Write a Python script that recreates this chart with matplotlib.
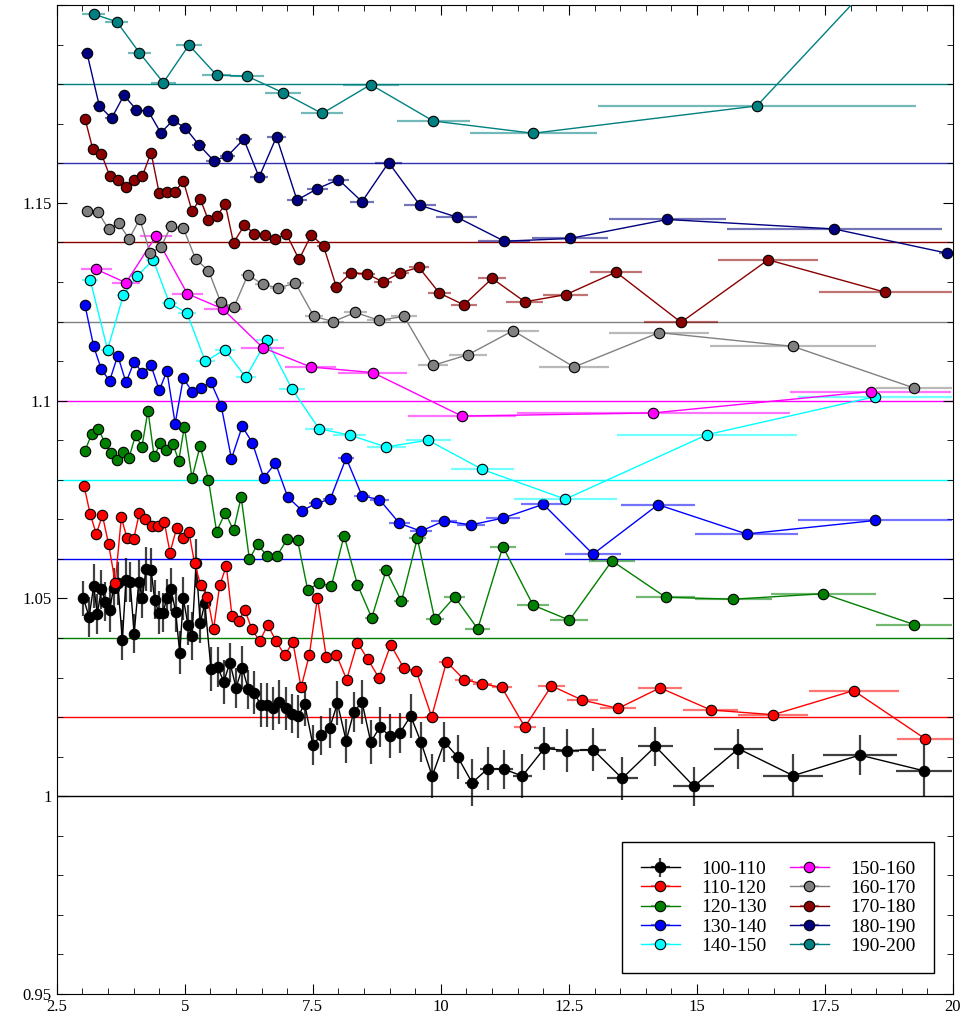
import matplotlib.pyplot as plt
from matplotlib.ticker import MultipleLocator, FuncFormatter, FormatStrFormatter

plt.rcParams['font.family'] = ['Liberation Serif', 'DejaVu Serif']

# 100-110
x_100 = [3.02, 3.13, 3.22, 3.29, 3.37, 3.45, 3.53, 3.61, 3.69, 3.78, 3.85, 3.93, 4.01, 4.10, 4.17, 4.24, 4.34, 4.41, 4.49, 4.57,
         4.65, 4.73, 4.82, 4.90, 4.97, 5.06, 5.14, 5.22, 5.30, 5.39, 5.51, 5.64, 5.76, 5.88, 6.00, 6.12, 6.24, 6.36, 6.48, 6.60,
         6.72, 6.84, 6.97, 7.09, 7.21, 7.34, 7.50, 7.66, 7.83, 7.98, 8.15, 8.30, 8.46, 8.63, 8.81, 9.00, 9.20, 9.41, 9.61, 9.83,
         10.07, 10.33, 10.61, 10.92, 11.24, 11.59, 12.02, 12.47, 12.97, 13.54, 14.19, 14.94, 15.81, 16.88, 18.18, 19.44]
y_100 = [1.0500, 1.0453, 1.0532, 1.0461, 1.0523, 1.0492, 1.0471, 1.0527, 1.0538, 1.0395, 1.0547, 1.0542, 1.0411, 1.0542, 1.0500,
         1.0574, 1.0572, 1.0497, 1.0464, 1.0464, 1.0500, 1.0523, 1.0466, 1.0363, 1.0500, 1.0433, 1.0405, 1.0589, 1.0437, 1.0488,
         1.0322, 1.0327, 1.0289, 1.0338, 1.0274, 1.0325, 1.0270, 1.0262, 1.0230, 1.0230, 1.0222, 1.0238, 1.0222, 1.0209, 1.0202,
         1.0233, 1.0130, 1.0154, 1.0173, 1.0235, 1.0140, 1.0213, 1.0238, 1.0137, 1.0175, 1.0152, 1.0160, 1.0203, 1.0137, 1.0051,
         1.0137, 1.0099, 1.0034, 1.0070, 1.0068, 1.0051, 1.0121, 1.0115, 1.0118, 1.0045, 1.0126, 1.0025, 1.0120, 1.0052, 1.0104, 1.0064]
xe_100 = [0.04, 0.04, 0.04, 0.04, 0.04, 0.04, 0.04, 0.04, 0.04, 0.04, 0.04, 0.04, 0.04, 0.04, 0.04, 0.04, 0.04, 0.04, 0.04, 0.04,
          0.04, 0.04, 0.04, 0.04, 0.04, 0.05, 0.05, 0.05, 0.05, 0.05, 0.06, 0.06, 0.06, 0.06, 0.06, 0.06, 0.06, 0.06, 0.06, 0.06,
          0.06, 0.06, 0.06, 0.06, 0.06, 0.07, 0.08, 0.08, 0.08, 0.08, 0.08, 0.08, 0.08, 0.09, 0.09, 0.1, 0.1, 0.1, 0.11, 0.11,
          0.12, 0.13, 0.14, 0.15, 0.16, 0.18, 0.2, 0.22, 0.25, 0.3, 0.34, 0.4, 0.48, 0.58, 0.72, 0.55]
ye_100 = [0.0045, 0.0050, 0.0055, 0.0050, 0.0050, 0.0050, 0.0055, 0.0050, 0.0055, 0.0050, 0.0055, 0.0050, 0.0050, 0.0055, 0.0050,
          0.0055, 0.0055, 0.0050, 0.0055, 0.0050, 0.0050, 0.0055, 0.0050, 0.0055, 0.0055, 0.0050, 0.0060, 0.0060, 0.0050, 0.0050,
          0.0055, 0.0050, 0.0055, 0.0050, 0.0050, 0.0055, 0.0050, 0.0055, 0.0055, 0.0055, 0.0055, 0.0055, 0.0055, 0.0050, 0.0055,
          0.0055, 0.0050, 0.0050, 0.0050, 0.0055, 0.0055, 0.0050, 0.0055, 0.0055, 0.0050, 0.0055, 0.0050, 0.0055, 0.0050, 0.0055,
          0.0050, 0.0055, 0.0060, 0.0055, 0.0050, 0.0055, 0.0055, 0.0055, 0.0055, 0.0055, 0.0050, 0.0050, 0.0050, 0.0055, 0.0050, 0.0065]

# 110-120
x_110 = [3.03, 3.15, 3.27, 3.39, 3.51, 3.64, 3.76, 3.87, 4.00, 4.11, 4.23, 4.36, 4.47, 4.60, 4.71, 4.84, 4.96, 5.08, 5.19, 5.31,
         5.44, 5.56, 5.68, 5.81, 5.92, 6.05, 6.17, 6.31, 6.46, 6.62, 6.78, 6.95, 7.11, 7.27, 7.43, 7.59, 7.76, 7.96, 8.16, 8.37,
         8.57, 8.79, 9.02, 9.27, 9.52, 9.82, 10.11, 10.45, 10.81, 11.19, 11.64, 12.16, 12.76, 13.46, 14.28, 15.27, 16.49, 18.06, 19.46]
y_110 = [1.0785, 1.0714, 1.0663, 1.0710, 1.0638, 1.0540, 1.0705, 1.0652, 1.0650, 1.0715, 1.0701, 1.0684, 1.0684, 1.0692, 1.0616,
         1.0678, 1.0652, 1.0667, 1.0589, 1.0533, 1.0504, 1.0422, 1.0533, 1.0582, 1.0456, 1.0443, 1.0471, 1.0422, 1.0392, 1.0433,
         1.0392, 1.0357, 1.0389, 1.0275, 1.0357, 1.0502, 1.0353, 1.0357, 1.0295, 1.0388, 1.0347, 1.0299, 1.0383, 1.0325, 1.0316,
         1.0201, 1.0340, 1.0295, 1.0284, 1.0275, 1.0175, 1.0279, 1.0243, 1.0222, 1.0274, 1.0218, 1.0206, 1.0267, 1.0145]
xe_110 = [0.05, 0.05, 0.05, 0.05, 0.05, 0.05, 0.05, 0.05, 0.05, 0.05, 0.05, 0.05, 0.05, 0.05, 0.05, 0.05, 0.05, 0.05, 0.05, 0.06,
          0.06, 0.06, 0.06, 0.06, 0.06, 0.06, 0.07, 0.07, 0.07, 0.07, 0.08, 0.08, 0.08, 0.08, 0.08, 0.08, 0.09, 0.09, 0.09, 0.1,
          0.1, 0.11, 0.12, 0.13, 0.13, 0.14, 0.15, 0.17, 0.18, 0.2, 0.22, 0.26, 0.3, 0.35, 0.43, 0.54, 0.68, 0.88, 0.56]

# 120-130
x_120 = [3.05, 3.18, 3.31, 3.44, 3.55, 3.67, 3.80, 3.91, 4.04, 4.16, 4.28, 4.40, 4.52, 4.63, 4.77, 4.88, 4.99, 5.14, 5.30, 5.46,
         5.62, 5.79, 5.95, 6.10, 6.26, 6.42, 6.60, 6.80, 7.00, 7.20, 7.40, 7.62, 7.86, 8.11, 8.37, 8.65, 8.93, 9.23, 9.54, 9.88,
         10.27, 10.72, 11.21, 11.80, 12.51, 13.34, 14.39, 15.71, 17.47, 19.24]
y_120 = [1.0873, 1.0916, 1.0928, 1.0894, 1.0867, 1.0851, 1.0869, 1.0856, 1.0914, 1.0882, 1.0975, 1.0859, 1.0892, 1.0876, 1.0890,
         1.0848, 1.0934, 1.0805, 1.0886, 1.0800, 1.0669, 1.0717, 1.0672, 1.0756, 1.0599, 1.0637, 1.0608, 1.0608, 1.0650, 1.0648,
         1.0521, 1.0540, 1.0531, 1.0659, 1.0535, 1.0451, 1.0571, 1.0493, 1.0652, 1.0447, 1.0504, 1.0423, 1.0631, 1.0483, 1.0445,
         1.0595, 1.0503, 1.0498, 1.0512, 1.0434]
xe_120 = [0.05, 0.05, 0.05, 0.05, 0.05, 0.05, 0.05, 0.05, 0.05, 0.05, 0.05, 0.05, 0.05, 0.05, 0.05, 0.05, 0.06, 0.07, 0.08, 0.08,
          0.08, 0.08, 0.08, 0.08, 0.08, 0.08, 0.09, 0.1, 0.1, 0.1, 0.1, 0.11, 0.12, 0.13, 0.13, 0.14, 0.14, 0.15, 0.16, 0.18,
          0.2, 0.24, 0.26, 0.32, 0.37, 0.45, 0.58, 0.75, 1.02, 0.75]

# 130-140
x_130 = [3.05, 3.22, 3.37, 3.53, 3.69, 3.85, 4.01, 4.17, 4.34, 4.50, 4.65, 4.81, 4.97, 5.14, 5.31, 5.51, 5.71, 5.91, 6.12, 6.32,
         6.54, 6.77, 7.01, 7.29, 7.56, 7.84, 8.15, 8.46, 8.80, 9.19, 9.61, 10.06, 10.59, 11.21, 12.00, 12.97, 14.24, 15.97, 18.48]
y_130 = [1.1241, 1.1137, 1.1079, 1.1050, 1.1114, 1.1046, 1.1098, 1.1070, 1.1089, 1.1026, 1.1075, 1.0942, 1.1057, 1.1023, 1.1033,
         1.1046, 1.0987, 1.0853, 1.0935, 1.0893, 1.0805, 1.0842, 1.0756, 1.0722, 1.0740, 1.0751, 1.0855, 1.0759, 1.0750, 1.0690,
         1.0670, 1.0696, 1.0686, 1.0703, 1.0738, 1.0612, 1.0737, 1.0663, 1.0697]
xe_130 = [0.07, 0.07, 0.07, 0.07, 0.07, 0.07, 0.07, 0.07, 0.07, 0.07, 0.08, 0.08, 0.08, 0.08, 0.09, 0.09, 0.09, 0.1, 0.1, 0.1,
          0.1, 0.1, 0.1, 0.12, 0.13, 0.14, 0.16, 0.16, 0.18, 0.2, 0.22, 0.25, 0.28, 0.33, 0.44, 0.54, 0.72, 1.0, 1.5]

# 140-150
x_140 = [3.15, 3.49, 3.80, 4.07, 4.38, 4.70, 5.04, 5.40, 5.78, 6.19, 6.60, 7.09, 7.62, 8.22, 8.93, 9.75, 10.81, 12.43, 15.20, 18.48]
y_140 = [1.1306, 1.1129, 1.1267, 1.1315, 1.1356, 1.1246, 1.1222, 1.1099, 1.1129, 1.1059, 1.1153, 1.1030, 1.0929, 1.0913, 1.0883,
         1.0900, 1.0826, 1.0751, 1.0914, 1.1010]
xe_140 = [0.15, 0.13, 0.13, 0.14, 0.14, 0.15, 0.17, 0.18, 0.2, 0.2, 0.22, 0.25, 0.28, 0.32, 0.38, 0.44, 0.62, 1.0, 1.76, 1.5]

# 150-160
x_150 = [3.27, 3.85, 4.43, 5.05, 5.74, 6.52, 7.46, 8.67, 10.41, 14.15, 18.39]
y_150 = [1.1332, 1.1298, 1.1415, 1.1270, 1.1232, 1.1134, 1.1085, 1.1071, 1.0961, 1.0969, 1.1023]
xe_150 = [0.3, 0.28, 0.31, 0.31, 0.37, 0.42, 0.5, 0.67, 1.06, 2.67, 1.57]

# 160-170
x_160 = [3.09, 3.31, 3.51, 3.71, 3.91, 4.12, 4.32, 4.53, 4.73, 4.97, 5.21, 5.46, 5.70, 5.96, 6.23, 6.52, 6.82, 7.16, 7.52, 7.90,
         8.33, 8.79, 9.28, 9.84, 10.53, 11.41, 12.60, 14.26, 16.88, 19.24]
y_160 = [1.1479, 1.1476, 1.1433, 1.1448, 1.1409, 1.1459, 1.1374, 1.1388, 1.1441, 1.1436, 1.1358, 1.1329, 1.1249, 1.1237, 1.1318,
         1.1294, 1.1285, 1.1297, 1.1213, 1.1200, 1.1223, 1.1203, 1.1213, 1.1089, 1.1116, 1.1177, 1.1085, 1.1172, 1.1137, 1.1032]
xe_160 = [0.1, 0.1, 0.1, 0.1, 0.1, 0.1, 0.1, 0.11, 0.11, 0.12, 0.12, 0.13, 0.13, 0.13, 0.14, 0.15, 0.16, 0.17, 0.18, 0.2,
          0.22, 0.24, 0.26, 0.29, 0.38, 0.5, 0.68, 0.98, 1.62, 0.75]

# 170-180
x_170 = [3.05, 3.20, 3.37, 3.53, 3.69, 3.85, 4.01, 4.17, 4.34, 4.50, 4.65, 4.81, 4.97, 5.14, 5.30, 5.46, 5.62, 5.79, 5.95, 6.16,
         6.36, 6.56, 6.76, 6.98, 7.23, 7.47, 7.71, 7.96, 8.24, 8.55, 8.87, 9.20, 9.57, 9.97, 10.45, 11.00, 11.64, 12.44, 13.42, 14.69,
         16.39, 18.68]
y_170 = [1.1713, 1.1637, 1.1624, 1.1569, 1.1557, 1.1541, 1.1559, 1.1568, 1.1627, 1.1524, 1.1528, 1.1528, 1.1556, 1.1479, 1.1510,
         1.1456, 1.1466, 1.1496, 1.1399, 1.1443, 1.1422, 1.1418, 1.1408, 1.1422, 1.1357, 1.1419, 1.1390, 1.1287, 1.1323, 1.1321,
         1.1300, 1.1323, 1.1337, 1.1272, 1.1242, 1.1309, 1.1250, 1.1268, 1.1325, 1.1198, 1.1356, 1.1274]
xe_170 = [0.08, 0.08, 0.08, 0.08, 0.08, 0.08, 0.08, 0.08, 0.08, 0.08, 0.08, 0.08, 0.08, 0.08, 0.08, 0.08, 0.09, 0.09, 0.1, 0.1,
          0.1, 0.1, 0.11, 0.12, 0.12, 0.12, 0.13, 0.13, 0.15, 0.16, 0.17, 0.18, 0.2, 0.22, 0.25, 0.28, 0.36, 0.44, 0.5, 0.72,
          0.98, 1.3]

# 180-190
x_180 = [3.09, 3.33, 3.57, 3.81, 4.05, 4.29, 4.53, 4.77, 5.01, 5.28, 5.56, 5.83, 6.15, 6.45, 6.79, 7.19, 7.59, 8.00, 8.46, 8.98,
         9.59, 10.31, 11.24, 12.52, 14.42, 17.68, 19.88]
y_180 = [1.1878, 1.1745, 1.1714, 1.1772, 1.1736, 1.1731, 1.1677, 1.1709, 1.1689, 1.1646, 1.1607, 1.1618, 1.1661, 1.1565, 1.1667,
         1.1507, 1.1536, 1.1559, 1.1503, 1.1602, 1.1494, 1.1464, 1.1403, 1.1410, 1.1458, 1.1434, 1.1373]
xe_180 = [0.12, 0.12, 0.12, 0.12, 0.12, 0.12, 0.12, 0.12, 0.13, 0.14, 0.14, 0.15, 0.16, 0.17, 0.18, 0.2, 0.2, 0.21, 0.24, 0.27,
          0.32, 0.4, 0.51, 0.75, 1.14, 2.1, 0.15]

# 190-200
x_190 = [3.22, 3.67, 4.11, 4.58, 5.08, 5.62, 6.22, 6.91, 7.68, 8.63, 9.85, 11.80, 16.17, 19.6]
y_190 = [1.1977, 1.1958, 1.1880, 1.1804, 1.1899, 1.1823, 1.1820, 1.1779, 1.1726, 1.1799, 1.1707, 1.1676, 1.1745, 1.222]
xe_190 = [0.23, 0.22, 0.22, 0.24, 0.26, 0.28, 0.33, 0.35, 0.41, 0.55, 0.71, 1.24, 3.1, 0.3]

labels = ['100-110', '110-120', '120-130', '130-140', '140-150',
          '150-160', '160-170', '170-180', '180-190', '190-200']
colors = ['black', 'red', 'green', 'blue', 'cyan',
          'magenta', 'gray', 'darkred', 'navy', 'teal']
baselines = [1.00, 1.02, 1.04, 1.06, 1.08, 1.10, 1.12, 1.14, 1.16, 1.18]
base_colors = ['black', 'red', 'green', 'blue', 'cyan',
               'magenta', 'gray', 'darkred', '#3030b0', 'teal']

xs = [x_100, x_110, x_120, x_130, x_140, x_150, x_160, x_170, x_180, x_190]
ys = [y_100, y_110, y_120, y_130, y_140, y_150, y_160, y_170, y_180, y_190]
xes = [xe_100, xe_110, xe_120, xe_130, xe_140, xe_150, xe_160, xe_170, xe_180, xe_190]

fig = plt.figure(figsize=(9.8, 10.18), dpi=100)
ax = fig.add_axes([0.058, 0.0236, 0.9144, 0.9714])

for b, c in zip(baselines, base_colors):
    ax.axhline(b, color=c, lw=1.0, zorder=1)

handles = []
for i in range(10):
    ye = ye_100 if i == 0 else None
    h = ax.errorbar(xs[i], ys[i], xerr=xes[i], yerr=ye, fmt='-o', color=colors[i],
                    mfc=colors[i], mec='black', mew=0.8, ms=7.5, lw=1.0,
                    ecolor=colors[i], elinewidth=1.6, capsize=0, zorder=3 + i,
                    label=labels[i])
    for bar in h[2]:
        bar.set_alpha(0.75 if i == 0 else 0.55)
    handles.append(h)

ax.set_xlim(2.5, 20)
ax.set_ylim(0.95, 1.2)
ax.xaxis.set_major_locator(MultipleLocator(2.5))
ax.xaxis.set_minor_locator(MultipleLocator(0.5))
ax.yaxis.set_major_locator(MultipleLocator(0.05))
ax.yaxis.set_minor_locator(MultipleLocator(0.01))
ax.xaxis.set_major_formatter(FormatStrFormatter('%g'))
ax.yaxis.set_major_formatter(FuncFormatter(lambda v, p: '' if v > 1.19 else '%g' % round(v, 3)))
ax.tick_params(which='both', direction='in', top=True, right=True, labelsize=12)
ax.tick_params(which='major', length=7)
ax.tick_params(which='minor', length=4)

leg = ax.legend(handles=handles, ncol=2, loc='lower right',
                bbox_to_anchor=(0.979, 0.021), borderaxespad=0,
                fontsize=14, fancybox=False, edgecolor='black',
                handlelength=2.0, columnspacing=1.2, labelspacing=0.08,
                borderpad=0.95, handletextpad=1.1, framealpha=1)
leg.get_frame().set_linewidth(1.0)

fig.savefig('out.png', dpi=100)
